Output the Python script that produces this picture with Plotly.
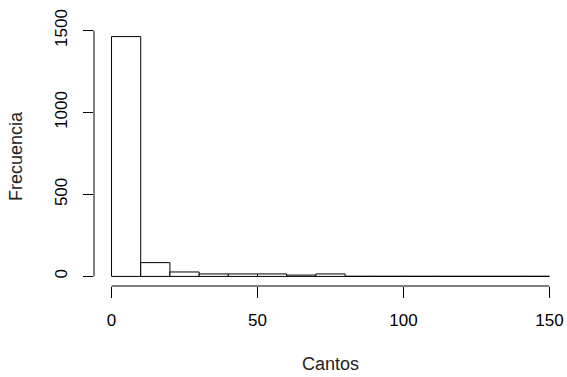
import plotly.graph_objects as go

# Histogram of "Cantos": bin edges every 10 units and the count in each bin
bin_edges = [0, 10, 20, 30, 40, 50, 60, 70, 80, 90, 100, 110, 120, 130, 140, 150]
counts = [1463, 84, 27, 15, 15, 15, 8, 15, 1, 1, 1, 1, 1, 1, 1]

x_ticks = [0, 50, 100, 150]
y_ticks = [0, 500, 1000, 1500]

centers = [(a + b) / 2 for a, b in zip(bin_edges[:-1], bin_edges[1:])]
widths = [b - a for a, b in zip(bin_edges[:-1], bin_edges[1:])]

FONT = "Liberation Sans, Arial, sans-serif"

fig = go.Figure(
    go.Bar(
        x=centers,
        y=counts,
        width=widths,
        marker=dict(color="white", line=dict(color="black", width=1)),
        hoverinfo="skip",
    )
)

# R-style axes: plot region padded by 4% on each side, axis lines only over the data span
x_lo, x_hi = bin_edges[0], bin_edges[-1]
y_lo, y_hi = 0, max(counts)
x_pad = 0.04 * (x_hi - x_lo)
y_pad = 0.04 * (y_hi - y_lo)

fig.update_layout(
    width=567,
    height=377,
    margin=dict(l=94, r=0, t=27, b=91),
    paper_bgcolor="white",
    plot_bgcolor="white",
    showlegend=False,
    font=dict(family=FONT, size=17, color="black"),
    xaxis=dict(
        range=[x_lo - x_pad, x_hi + x_pad],
        tickvals=x_ticks,
        ticktext=[str(v) for v in x_ticks],
        ticks="outside",
        ticklen=11,
        tickwidth=1,
        tickcolor="black",
        showline=False,
        showgrid=False,
        zeroline=False,
        ticklabelstandoff=8,
        title=dict(text="Cantos", standoff=27, font=dict(size=18, color="#222")),
    ),
    yaxis=dict(
        range=[y_lo - y_pad, y_hi + y_pad],
        tickvals=y_ticks,
        ticktext=[str(v) for v in y_ticks],
        tickangle=-90,
        ticks="outside",
        ticklen=10,
        tickwidth=1,
        tickcolor="black",
        showline=False,
        showgrid=False,
        zeroline=False,
        ticklabelstandoff=9,
        title=dict(text="Frecuencia", standoff=24, font=dict(size=18, color="#222")),
    ),
    shapes=[
        dict(type="line", xref="x", yref="paper", x0=x_ticks[0], x1=x_ticks[-1],
             y0=0, y1=0, line=dict(color="black", width=1)),
        dict(type="line", xref="paper", yref="y", x0=0, x1=0,
             y0=y_ticks[0], y1=y_ticks[-1], line=dict(color="black", width=1)),
    ],
)

fig.write_html("out.html")
